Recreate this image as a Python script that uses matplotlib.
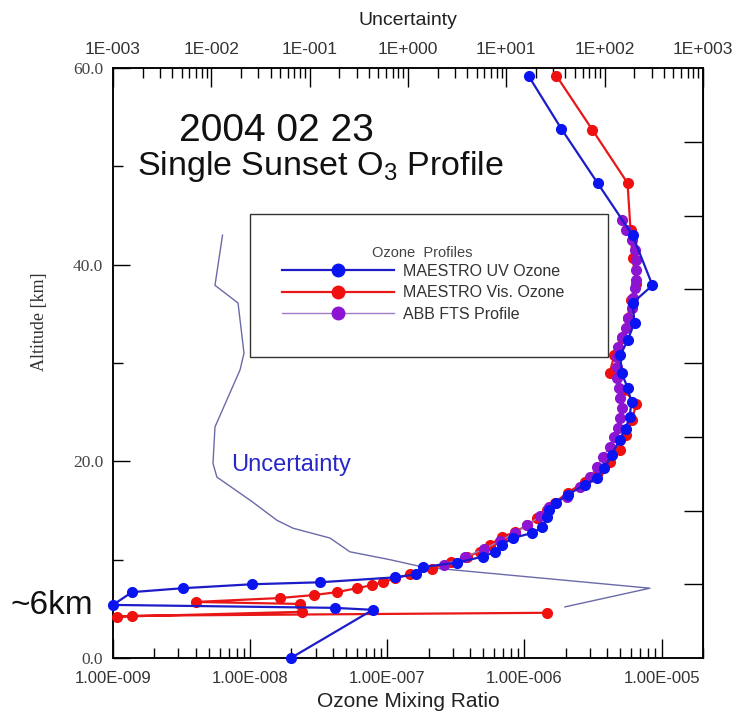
import matplotlib

matplotlib.use("Agg")

import matplotlib.pyplot as plt
from matplotlib.lines import Line2D
from matplotlib.patches import Rectangle
from matplotlib.ticker import (LogLocator, FixedLocator, MultipleLocator, FuncFormatter,
                               NullFormatter, FormatStrFormatter)

plt.rcParams["font.family"] = "Liberation Sans"
plt.rcParams["mathtext.fontset"] = "custom"
plt.rcParams["mathtext.rm"] = "Liberation Sans"

# MAESTRO UV ozone (altitude km, mixing ratio)
uv_alt = [59.2, 53.8, 48.3, 43.0, 37.9, 36.1, 34.1, 32.3, 30.8, 29.0, 27.5, 26.0,
          24.5, 23.3, 22.2, 20.6, 19.3, 18.3, 17.6, 16.6, 15.8, 15.05, 14.3, 13.3,
          12.7, 12.2, 11.5, 10.8, 10.3, 9.7, 9.25, 8.5, 8.2, 7.7, 7.5, 7.1, 6.7,
          5.4, 5.1, 4.9, 0.0]
uv_vmr = [1.07e-6, 1.86e-6, 3.41e-6, 6.13e-6, 8.57e-6, 6.13e-6, 6.34e-6, 5.64e-6,
          5.01e-6, 5.10e-6, 5.64e-6, 6.03e-6, 5.83e-6, 5.45e-6, 4.93e-6, 4.31e-6,
          3.83e-6, 3.35e-6, 2.74e-6, 2.06e-6, 1.71e-6, 1.52e-6, 1.45e-6, 1.35e-6,
          1.13e-6, 8.2e-7, 6.8e-7, 6.1e-7, 4.95e-7, 3.2e-7, 1.81e-7, 1.61e-7,
          1.13e-7, 3.22e-8, 1.03e-8, 3.24e-9, 1.375e-9, 1.0e-9, 4.14e-8, 7.83e-8,
          1.98e-8]

# MAESTRO visible ozone
vis_alt = [59.2, 53.7, 48.3, 43.5, 40.7, 38.0, 36.4, 34.6, 32.5, 30.8, 29.0, 27.3,
           25.8, 24.2, 22.7, 21.2, 19.9, 18.9, 17.9, 16.8, 15.8, 15.05, 14.2, 13.5,
           12.8, 12.3, 11.5, 10.8, 10.3, 9.8, 9.05, 8.5, 8.1, 7.7, 7.4, 7.1, 6.7,
           6.4, 6.1, 5.7, 5.5, 4.7, 4.2, 4.3, 4.6]
vis_vmr = [1.71e-6, 3.13e-6, 5.64e-6, 5.93e-6, 6.13e-6, 6.55e-6, 5.93e-6, 5.64e-6,
           5.10e-6, 4.53e-6, 4.17e-6, 5.27e-6, 6.55e-6, 6.03e-6, 5.54e-6, 4.93e-6,
           4.17e-6, 3.41e-6, 2.74e-6, 2.06e-6, 1.66e-6, 1.45e-6, 1.23e-6, 1.05e-6,
           8.5e-7, 6.8e-7, 5.6e-7, 4.7e-7, 3.8e-7, 2.9e-7, 2.1e-7, 1.46e-7, 1.13e-7,
           9.3e-8, 7.7e-8, 6.0e-8, 4.3e-8, 2.9e-8, 1.65e-8, 4.0e-9, 2.3e-8, 2.4e-8,
           1.07e-9, 1.37e-9, 1.47e-6]

# ACE FTS profile
fts_alt = [44.5, 43.5, 42.5, 41.5, 40.5, 39.5, 38.4, 37.6, 36.6, 35.6, 34.6, 33.6,
           32.6, 31.6, 30.6, 29.6, 28.5, 27.5, 26.4, 25.4, 24.4, 23.4, 22.5, 21.5,
           20.4, 19.4, 18.4, 17.4, 16.4, 15.4, 14.4, 13.5, 12.7, 11.9, 11.1, 10.3, 9.5]
fts_vmr = [5.18e-6, 5.54e-6, 6.03e-6, 6.34e-6, 6.55e-6, 6.55e-6, 6.45e-6, 6.34e-6,
           6.13e-6, 6.03e-6, 5.73e-6, 5.54e-6, 5.10e-6, 4.77e-6, 4.69e-6, 4.69e-6,
           4.69e-6, 4.85e-6, 5.01e-6, 5.10e-6, 5.01e-6, 4.77e-6, 4.53e-6, 4.17e-6,
           3.71e-6, 3.35e-6, 2.98e-6, 2.52e-6, 2.03e-6, 1.52e-6, 1.29e-6, 1.05e-6,
           8.5e-7, 6.6e-7, 5.1e-7, 3.7e-7, 2.6e-7]

# uncertainty (top axis)
unc_alt = [43.0, 37.9, 36.1, 31.0, 29.3, 23.5, 19.8, 18.4, 15.9, 14.0, 13.2, 12.2,
           10.8, 10.0, 9.25, 7.1, 5.2]
unc_val = [0.0130, 0.0109, 0.0187, 0.0215, 0.0196, 0.0109, 0.0104, 0.0114, 0.026,
           0.0466, 0.0678, 0.161, 0.257, 0.656, 1.42, 289, 39.5]

bottom_ticks = [1e-9, 1e-8, 1e-7, 1e-6, 1e-5]
top_ticks = [1e-3, 1e-2, 1e-1, 1e0, 1e1, 1e2, 1e3]
right_ticks = [7.5, 15, 22.5, 30, 37.5, 45, 52.5]


def sci3(v, decimals):
    m, e = f"{v:.{decimals}E}".split("E")
    return f"{m}E{e[0]}{abs(int(e)):03d}"


fig = plt.figure(figsize=(7.36, 7.15), dpi=100)
ax = fig.add_axes([0.1535, 0.0797, 0.8016, 0.8252])
ax2 = ax.twiny()
ax.set_zorder(ax2.get_zorder() + 1)
ax.patch.set_visible(False)

# uncertainty curve on the top axis
ax2.plot(unc_val, unc_alt, color="#6a6aa8", lw=1.0)
ax2.set_xscale("log")
ax2.set_xlim(1e-3, 1e3)
ax2.xaxis.set_major_locator(FixedLocator(top_ticks))
ax2.xaxis.set_minor_locator(LogLocator(base=10, subs=range(2, 10), numticks=20))
ax2.xaxis.set_major_formatter(FuncFormatter(lambda v, p: sci3(v, 0)))
ax2.xaxis.set_minor_formatter(NullFormatter())
ax2.tick_params(axis="x", which="major", direction="in", length=14, width=1,
                labelsize=12.5, labelcolor="#333", pad=8)
ax2.tick_params(axis="x", which="minor", direction="in", length=7, width=1)
ax2.set_xlabel("Uncertainty", fontsize=14, labelpad=12, color="#222")

# profiles
ax.add_patch(Rectangle((0.2322, 0.510), 0.6068, 0.2424, transform=ax.transAxes,
                       facecolor="white", edgecolor="#333", lw=1.0, zorder=1.5))
ax.plot(vis_vmr, vis_alt, color="#e81818", lw=1.6, marker="o", ms=7,
        mfc="#f01010", mec="#f01010", zorder=3, clip_on=False)
ax.plot(fts_vmr, fts_alt, color="#a27cc4", lw=1.0, marker="o", ms=7,
        mfc="#8c14d2", mec="#8c14d2", zorder=4, clip_on=False)
ax.plot(uv_vmr, uv_alt, color="#1c1cc8", lw=1.6, marker="o", ms=7,
        mfc="#0a14f0", mec="#0a14f0", zorder=5, clip_on=False)

ax.set_xscale("log")
ax.set_xlim(1e-9, 2e-5)
ax.set_ylim(0, 60)
ax.xaxis.set_major_locator(FixedLocator(bottom_ticks))
ax.xaxis.set_minor_locator(LogLocator(base=10, subs=range(2, 10), numticks=20))
ax.xaxis.set_major_formatter(FuncFormatter(lambda v, p: sci3(v, 2)))
ax.xaxis.set_minor_formatter(NullFormatter())
ax.tick_params(axis="x", which="major", direction="in", length=14, width=1,
               labelsize=12, labelcolor="#333", pad=9, top=False)
ax.tick_params(axis="x", which="minor", direction="in", length=7, width=1, top=False)
ax.set_xlabel("Ozone Mixing Ratio", fontsize=15, labelpad=5, color="#222")

ax.yaxis.set_major_locator(MultipleLocator(20))
ax.yaxis.set_minor_locator(MultipleLocator(10))
ax.yaxis.set_major_formatter(FormatStrFormatter("%.1f"))
ax.tick_params(axis="y", which="major", direction="in", length=12, width=1,
               labelsize=12.5, labelcolor="#444", pad=7, right=False)
ax.tick_params(axis="y", which="minor", direction="in", length=7, width=1, right=False)
for lab in ax.get_yticklabels():
    lab.set_fontfamily("Liberation Serif")
ax.set_ylabel("Altitude [km]", fontfamily="Liberation Serif", fontsize=13, color="#333")
ax.yaxis.set_label_coords(-0.11, 0.57)

sec = ax.secondary_yaxis("right")
sec.set_yticks(right_ticks)
sec.yaxis.set_major_formatter(NullFormatter())
sec.tick_params(direction="in", length=14, width=1)

for a in (ax, ax2):
    for s in a.spines.values():
        s.set_linewidth(1.1)

# legend
handles = [
    Line2D([], [], color="#1c1cc8", lw=1.6, marker="o", ms=9, mfc="#0a14f0", mec="#0a14f0"),
    Line2D([], [], color="#e81818", lw=1.6, marker="o", ms=9, mfc="#f01010", mec="#f01010"),
    Line2D([], [], color="#a27cc4", lw=1.0, marker="o", ms=9, mfc="#8c14d2", mec="#8c14d2"),
]
labels = ["MAESTRO UV Ozone", "MAESTRO Vis. Ozone", "ABB FTS Profile"]
leg = ax.legend(handles, labels, loc="upper left", bbox_to_anchor=(0.286, 0.668),
                frameon=False, fontsize=11.5, handlelength=7, handletextpad=0.6,
                labelspacing=0.4, borderaxespad=0, borderpad=0)
for t in leg.get_texts():
    t.set_color("#333")
ax.text(0.524, 0.686, "Ozone  Profiles", transform=ax.transAxes, ha="center",
        va="center", fontsize=10.5, color="#444")

# annotations
fig.text(276 / 736, 1 - 131 / 715, "2004 02 23", ha="center", va="center",
         fontsize=28, color="#111")
fig.text(320 / 736, 1 - 166 / 715, "Single Sunset O$_\\mathregular{3}$ Profile",
         ha="center", va="center", fontsize=24.5, color="#111")
fig.text(52 / 736, 1 - 605 / 715, "~6km", ha="center", va="center",
         fontsize=24, color="#111")
fig.text(291 / 736, 1 - 465 / 715, "Uncertainty", ha="center", va="center",
         fontsize=17, color="#2828c8")

fig.savefig("out.png", dpi=100)
